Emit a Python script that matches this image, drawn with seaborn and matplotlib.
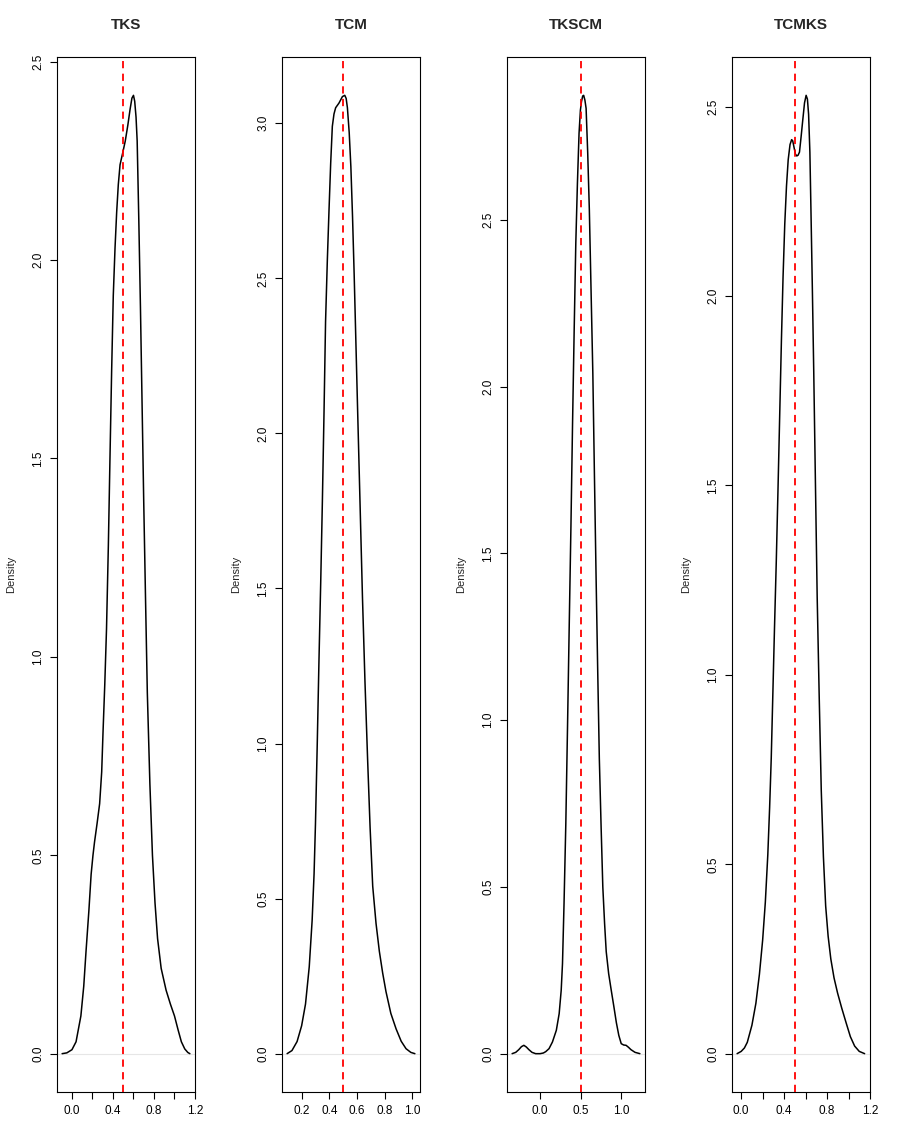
import numpy as np
import pandas as pd
import matplotlib
matplotlib.use("Agg")
import matplotlib.pyplot as plt
import seaborn as sns

# density curves (x, density)
tks_x = [-0.096, -0.05, 0.0, 0.04, 0.087, 0.115, 0.137, 0.165, 0.187, 0.205, 0.22, 0.245,
         0.27, 0.29, 0.303, 0.32, 0.337, 0.355, 0.37, 0.387, 0.403, 0.42, 0.436, 0.452,
         0.469, 0.495, 0.52, 0.545, 0.567, 0.585, 0.60, 0.612, 0.625, 0.636, 0.652, 0.668,
         0.685, 0.70, 0.718, 0.735, 0.76, 0.785, 0.81, 0.835, 0.87, 0.918, 0.96, 1.0,
         1.035, 1.067, 1.10, 1.13, 1.15]
tks_y = [0.0, 0.002, 0.01, 0.03, 0.095, 0.17, 0.257, 0.36, 0.452, 0.50, 0.533, 0.58,
         0.63, 0.71, 0.81, 0.93, 1.07, 1.28, 1.49, 1.72, 1.91, 2.03, 2.12, 2.19,
         2.24, 2.27, 2.30, 2.34, 2.38, 2.408, 2.415, 2.40, 2.36, 2.30, 2.10, 1.88,
         1.62, 1.39, 1.14, 0.91, 0.68, 0.50, 0.38, 0.29, 0.215, 0.16, 0.125, 0.095,
         0.06, 0.03, 0.012, 0.003, 0.0]

tcm_x = [0.095, 0.13, 0.167, 0.2, 0.228, 0.255, 0.276, 0.29, 0.30, 0.313, 0.325, 0.338,
         0.35, 0.362, 0.373, 0.386, 0.398, 0.41, 0.422, 0.434, 0.446, 0.47, 0.495, 0.512,
         0.522, 0.531, 0.544, 0.556, 0.568, 0.58, 0.592, 0.604, 0.622, 0.64, 0.658, 0.677,
         0.695, 0.714, 0.738, 0.762, 0.786, 0.81, 0.845, 0.883, 0.92, 0.955, 0.99, 1.019]
tcm_y = [0.0, 0.01, 0.039, 0.09, 0.16, 0.28, 0.43, 0.58, 0.74, 1.0, 1.26, 1.52,
         1.78, 2.07, 2.36, 2.56, 2.72, 2.87, 2.99, 3.03, 3.05, 3.065, 3.086, 3.09,
         3.08, 3.05, 2.97, 2.86, 2.70, 2.51, 2.30, 2.09, 1.78, 1.47, 1.20, 0.95,
         0.73, 0.54, 0.42, 0.33, 0.26, 0.20, 0.13, 0.08, 0.04, 0.016, 0.004, 0.0]

tkscm_x = [-0.345, -0.3, -0.263, -0.23, -0.2, -0.17, -0.138, -0.1, -0.055, 0.0, 0.04, 0.069,
           0.11, 0.152, 0.2, 0.235, 0.26, 0.276, 0.295, 0.317, 0.338, 0.358, 0.38, 0.40,
           0.42, 0.44, 0.46, 0.48, 0.497, 0.51, 0.525, 0.537, 0.552, 0.567, 0.587, 0.607,
           0.628, 0.65, 0.67, 0.69, 0.71, 0.73, 0.752, 0.773, 0.795, 0.815, 0.845, 0.877,
           0.91, 0.94, 0.97, 1.0, 1.03, 1.06, 1.09, 1.12, 1.17, 1.23]
tkscm_y = [0.0, 0.004, 0.012, 0.021, 0.025, 0.02, 0.012, 0.004, 0.0, 0.0, 0.002, 0.006,
           0.015, 0.035, 0.07, 0.12, 0.19, 0.27, 0.45, 0.69, 0.98, 1.27, 1.58, 1.89,
           2.17, 2.43, 2.61, 2.76, 2.83, 2.855, 2.872, 2.874, 2.86, 2.835, 2.70, 2.53,
           2.29, 2.04, 1.73, 1.43, 1.15, 0.885, 0.68, 0.50, 0.39, 0.306, 0.24, 0.19,
           0.14, 0.093, 0.055, 0.03, 0.026, 0.025, 0.019, 0.012, 0.004, 0.0]

tcmks_x = [-0.038, 0.0, 0.03, 0.057, 0.1, 0.137, 0.17, 0.2, 0.225, 0.248, 0.265, 0.28,
           0.295, 0.31, 0.327, 0.343, 0.36, 0.375, 0.39, 0.406, 0.422, 0.438, 0.455, 0.47,
           0.48, 0.49, 0.505, 0.518, 0.53, 0.543, 0.558, 0.572, 0.59, 0.605, 0.617, 0.628,
           0.64, 0.65, 0.663, 0.676, 0.692, 0.708, 0.727, 0.746, 0.766, 0.787, 0.81, 0.835,
           0.865, 0.898, 0.937, 0.977, 1.017, 1.057, 1.1, 1.15]
tcmks_y = [0.0, 0.006, 0.015, 0.03, 0.075, 0.133, 0.21, 0.30, 0.40, 0.525, 0.65, 0.78,
           0.95, 1.12, 1.30, 1.49, 1.70, 1.885, 2.05, 2.19, 2.29, 2.36, 2.40, 2.413,
           2.41, 2.396, 2.375, 2.37, 2.372, 2.38, 2.42, 2.46, 2.51, 2.53, 2.52, 2.48,
           2.38, 2.226, 2.02, 1.80, 1.50, 1.205, 0.94, 0.695, 0.52, 0.39, 0.31, 0.25,
           0.20, 0.16, 0.12, 0.082, 0.045, 0.02, 0.006, 0.0]

titles = ["TKS", "TCM", "TKSCM", "TCMKS"]
curves = [(tks_x, tks_y), (tcm_x, tcm_y), (tkscm_x, tkscm_y), (tcmks_x, tcmks_y)]
xticks = [np.arange(0, 1.21, 0.2), np.arange(0.2, 1.01, 0.2), [0.0, 0.5, 1.0], np.arange(0, 1.21, 0.2)]
xlabels = [["0.0", "", "0.4", "", "0.8", "", "1.2"],
           ["0.2", "0.4", "0.6", "0.8", "1.0"],
           ["0.0", "0.5", "1.0"],
           ["0.0", "", "0.4", "", "0.8", "", "1.2"]]
ymax_tick = [2.5, 3.0, 2.5, 2.5]
ref_line = 0.5

sns.set_theme(style="ticks")
plt.rcParams["font.family"] = ["Liberation Sans", "DejaVu Sans"]

fig = plt.figure(figsize=(8.99, 11.30), dpi=100)
lefts = [57, 282, 507, 732]

for i in range(4):
    ax = fig.add_axes([lefts[i] / 899, 38 / 1130, 138 / 899, 1035 / 1130])
    xs, ys = curves[i]
    df = pd.DataFrame({"x": xs, "Density": ys})

    # R-style ranges: 4% padding around data
    xr = max(xs) - min(xs)
    yr = max(ys)
    ax.set_xlim(min(xs) - 0.04 * xr, max(xs) + 0.04 * xr)
    ax.set_ylim(-0.04 * yr, 1.04 * yr)

    ax.axhline(0, color="#e6e6e6", lw=0.8, zorder=1)
    sns.lineplot(data=df, x="x", y="Density", ax=ax, color="black", lw=1.1,
                 sort=False, zorder=3)
    ax.axvline(ref_line, color="red", lw=1.3, linestyle=(0, (4, 3)), zorder=4)

    ax.set_title(titles[i], fontweight="bold", fontsize=11, pad=20)
    ax.set_xlabel("")
    ax.set_ylabel("Density", fontsize=8, labelpad=12)

    ax.set_xticks(xticks[i])
    ax.set_xticklabels(xlabels[i], fontsize=8.5)
    yt = np.arange(0, ymax_tick[i] + 0.01, 0.5)
    ax.set_yticks(yt)
    ax.set_yticklabels([f"{v:.1f}" for v in yt], fontsize=8.5, rotation=90, va="center")
    ax.tick_params(direction="out", length=5, width=0.8, colors="black", pad=4)
    for s in ax.spines.values():
        s.set_visible(True)
        s.set_color("black")
        s.set_linewidth(0.8)

fig.savefig("out.png", dpi=100, facecolor="white")
